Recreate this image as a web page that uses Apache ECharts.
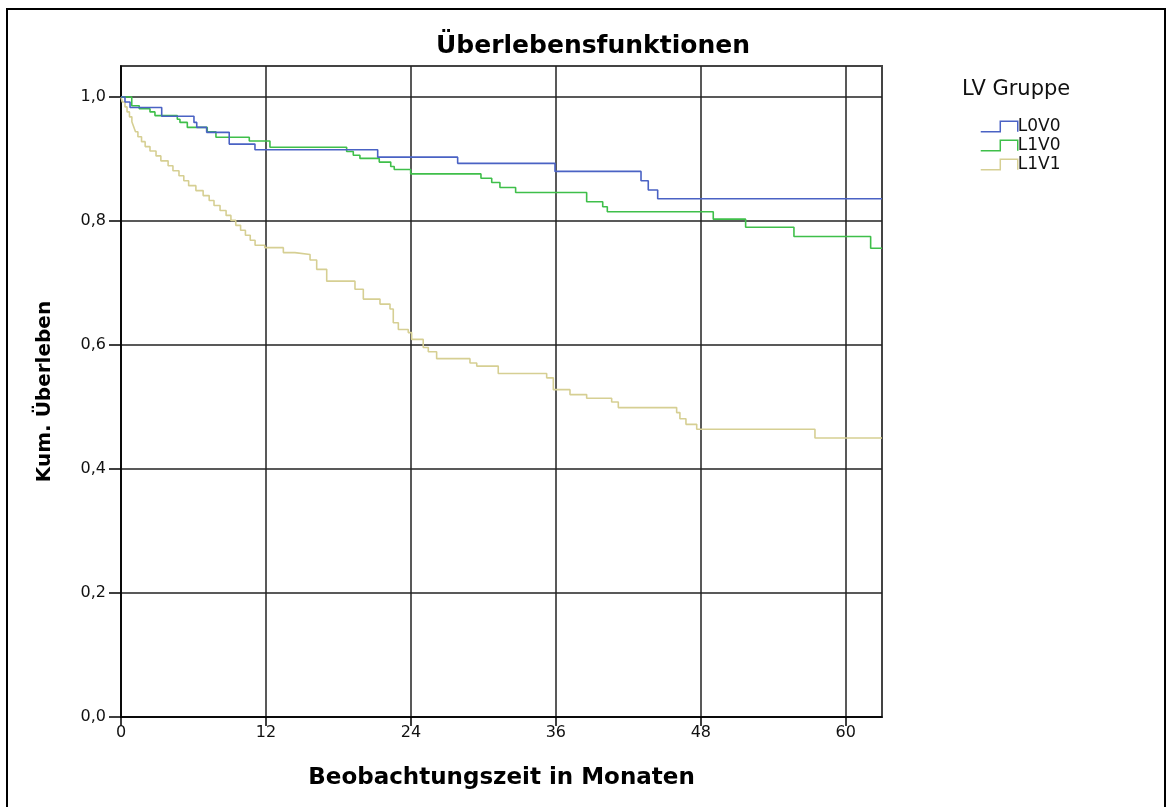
<!DOCTYPE html>
<html>
<head>
<meta charset="utf-8">
<title>Überlebensfunktionen</title>
<script src="https://cdn.jsdelivr.net/npm/echarts@6/dist/echarts.min.js"></script>
<style>
  html, body { margin: 0; padding: 0; background: #fff; }
  #chart { width: 1172px; height: 807px; }
</style>
</head>
<body>
<div id="chart"></div>
<script>
// Kaplan-Meier Stufen: [Monat, Kum. Überleben], Wert gilt ab diesem Monat
const groups = ["L0V0", "L1V0", "L1V1"]

const l0v0 = [
  [0, 1.0], [0.33, 0.992], [0.75, 0.983], [3.37, 0.969], [6.04, 0.959], [6.27, 0.951],
  [7.09, 0.943], [8.96, 0.924], [11.09, 0.915], [21.25, 0.903], [27.87, 0.893],
  [35.93, 0.880], [43.05, 0.865], [43.65, 0.850], [44.43, 0.836], [63, 0.836],
]

const l1v0 = [
  [0, 1.0], [0.89, 0.986], [1.51, 0.981], [2.40, 0.976], [2.81, 0.970], [4.66, 0.964],
  [4.88, 0.959], [5.49, 0.951], [7.14, 0.944], [7.86, 0.935], [10.62, 0.929],
  [12.33, 0.919], [18.68, 0.912], [19.23, 0.906], [19.78, 0.901], [21.38, 0.895],
  [22.33, 0.888], [22.62, 0.883], [23.98, 0.876], [29.80, 0.869], [30.69, 0.862],
  [31.37, 0.854], [32.67, 0.846], [38.55, 0.831], [39.88, 0.823], [40.26, 0.815],
  [49.03, 0.803], [51.71, 0.790], [55.71, 0.775], [62.06, 0.756], [63, 0.756],
]

const l1v1 = [
  [0, 1.0], [0.1, 0.992], [0.33, 0.984], [0.5, 0.976], [0.7, 0.968], [0.9, 0.960],
  [1.05, 0.952], [1.2, 0.944], [1.4, 0.936], [1.7, 0.928], [2.0, 0.920], [2.4, 0.913],
  [2.9, 0.905], [3.3, 0.897], [3.9, 0.889], [4.3, 0.881], [4.8, 0.873], [5.2, 0.865],
  [5.6, 0.857], [6.2, 0.849], [6.8, 0.841], [7.3, 0.833], [7.7, 0.825], [8.2, 0.817],
  [8.7, 0.809], [9.1, 0.801], [9.5, 0.793], [9.9, 0.785], [10.3, 0.777], [10.7, 0.769],
  [11.1, 0.761], [11.9, 0.757], [13.44, 0.749], [14.40, 0.746],
  [15.65, 0.737], [16.20, 0.722], [17.03, 0.703], [19.37, 0.690], [20.06, 0.674],
  [21.44, 0.666], [22.27, 0.658], [22.54, 0.636], [22.96, 0.625], [23.78, 0.620],
  [24.06, 0.609], [25.02, 0.596], [25.44, 0.589], [26.13, 0.578], [28.89, 0.571],
  [29.45, 0.566], [31.23, 0.554], [35.24, 0.547], [35.79, 0.528], [37.17, 0.520],
  [38.55, 0.514], [40.62, 0.508], [41.17, 0.499], [46.0, 0.491], [46.27, 0.481],
  [46.77, 0.472], [47.66, 0.464], [57.45, 0.450], [63, 0.450],
]

const xTicks = [0, 12, 24, 36, 48, 60]
const yTicks = [0, 0.2, 0.4, 0.6, 0.8, 1.0]

const colors = ["#4a62c4", "#3fbf4a", "#d6cf93"]
const font = "'DejaVu Sans', 'Liberation Sans', Arial, sans-serif"
const stepIcon = "path://M0,10 L19,10 L19,0 L36,0 L36,10"

const chart = echarts.init(document.getElementById("chart"))

const seriesData = [l0v0, l1v0, l1v1]

chart.setOption({
  animation: false,
  textStyle: { fontFamily: font },
  title: {
    text: "Überlebensfunktionen",
    left: 588,
    top: 29,
    textAlign: "center",
    textStyle: { fontSize: 25, fontWeight: "bold", color: "#000", fontFamily: font },
  },
  legend: {
    orient: "vertical",
    left: 975,
    top: 113,
    itemWidth: 37,
    itemHeight: 11,
    itemGap: 2,
    icon: stepIcon,
    lineStyle: { opacity: 0 },
    textStyle: { fontSize: 17, color: "#111", fontFamily: font, padding: [0, 0, 0, -5] },
    data: groups.map((name, i) => ({
      name,
      itemStyle: { color: "rgba(255,255,255,0)", borderColor: colors[i], borderWidth: 1.5 },
    })),
  },
  graphic: [
    {
      type: "rect",
      shape: { x: 7, y: 9, width: 1158, height: 820 },
      style: { fill: "none", stroke: "#000", lineWidth: 2 },
      silent: true,
    },
    {
      type: "text",
      left: 962,
      top: 79,
      style: { text: "LV Gruppe", fill: "#111", font: "21px " + font },
      silent: true,
    },
  ],
  grid: {
    left: 121,
    top: 66,
    right: 290,
    bottom: 90,
    show: true,
    borderColor: "#444",
    borderWidth: 2,
  },
  xAxis: {
    type: "value",
    min: 0,
    max: 63,
    interval: 12,
    name: "Beobachtungszeit in Monaten",
    nameLocation: "middle",
    nameGap: 50,
    nameTextStyle: { fontSize: 23, fontWeight: "bold", color: "#000", fontFamily: font },
    axisLine: { lineStyle: { color: "#000", width: 1.5 } },
    axisTick: { customValues: xTicks, length: 9, lineStyle: { color: "#000", width: 1.5 } },
    axisLabel: { customValues: xTicks, fontSize: 16, color: "#111", margin: 8 },
    splitLine: { show: true, lineStyle: { color: "#222", width: 1.5 } },
  },
  yAxis: {
    type: "value",
    min: 0,
    max: 1.05,
    interval: 0.2,
    name: "Kum. Überleben",
    nameLocation: "middle",
    nameGap: 66,
    nameTextStyle: { fontSize: 20, fontWeight: "bold", color: "#000", fontFamily: font },
    axisLine: { show: true, lineStyle: { color: "#000", width: 1.5 } },
    axisTick: { show: true, customValues: yTicks, length: 12, lineStyle: { color: "#000", width: 1.5 } },
    axisLabel: {
      customValues: yTicks,
      fontSize: 16,
      color: "#111",
      margin: 15,
      formatter: (v) => v.toFixed(1).replace(".", ","),
    },
    splitLine: { show: true, lineStyle: { color: "#222", width: 1.5 } },
  },
  series: groups.map((name, i) => ({
    name,
    type: "line",
    step: "end",
    showSymbol: false,
    symbol: "none",
    data: seriesData[i],
    color: colors[i],
    lineStyle: { width: 1.6, color: colors[i] },
    z: 5 - i,
  })),
})
</script>
</body>
</html>
